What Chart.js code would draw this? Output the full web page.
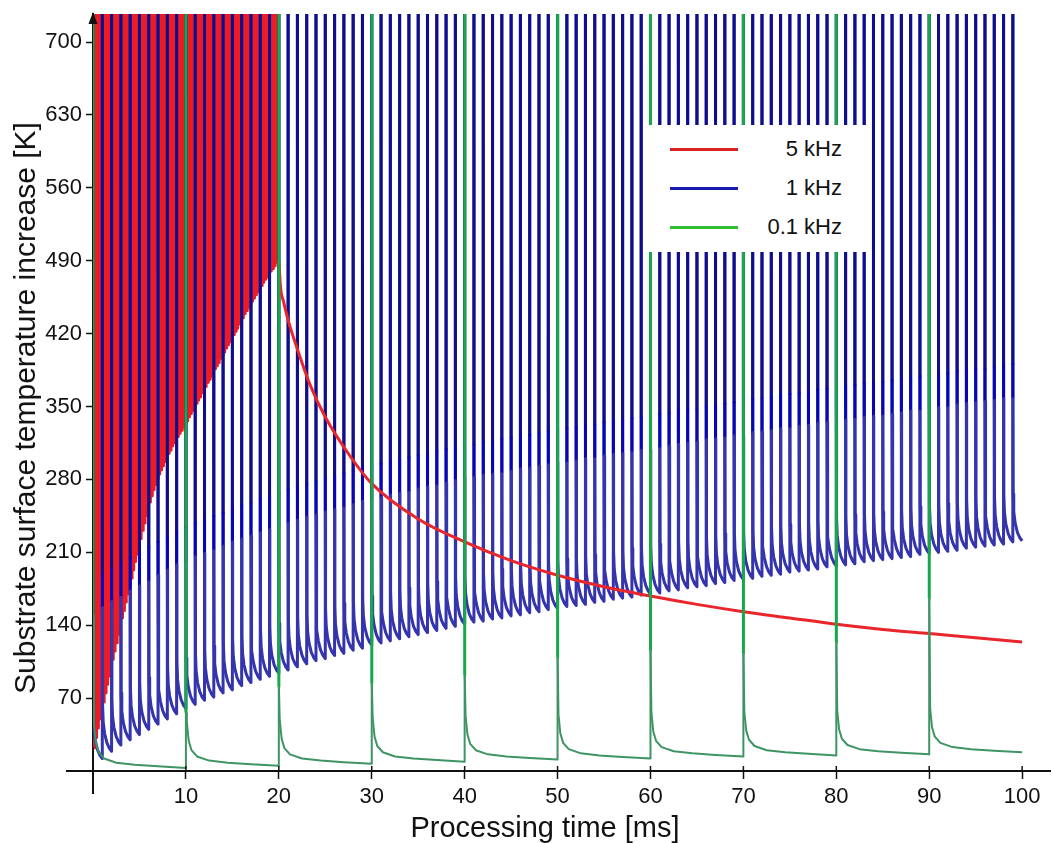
<!DOCTYPE html>
<html>
<head>
<meta charset="utf-8">
<script src="https://cdn.jsdelivr.net/npm/chart.js@4.4.1/dist/chart.umd.min.js"></script>
<style>
  body { margin: 0; background: #fff; }
  #wrap { position: relative; width: 1052px; height: 843px; font-family: Arial, "Liberation Sans", sans-serif; color: #111; }
  #chart { position: absolute; left: 0; top: 0; }
  .axis-title { position: absolute; white-space: nowrap; }
  #ytitle { left: 25px; top: 408px; font-size: 30px; transform: translate(-50%, -50%) rotate(-90deg); }
  #xtitle { left: 545px; top: 827px; font-size: 29px; transform: translate(-50%, -50%); }
  #legend { position: absolute; left: 646px; top: 125px; width: 224px; height: 127px; background: #fff; font-size: 22px; }
  #legend .item { position: absolute; left: 0; right: 0; height: 26px; }
  #legend .swatch { position: absolute; left: 24px; width: 68px; height: 3px; top: 11.5px; }
  #legend .label { position: absolute; right: 28px; top: 0; line-height: 26px; }
</style>
</head>
<body>
<div id="wrap">
  <canvas id="chart" width="1052" height="843"></canvas>
  <div class="axis-title" id="ytitle">Substrate surface temperature increase [K]</div>
  <div class="axis-title" id="xtitle">Processing time [ms]</div>
  <div id="legend"></div>
</div>
<script>
// tick labels
var xTicks = [10, 20, 30, 40, 50, 60, 70, 80, 90, 100];
var yTicks = [70, 140, 210, 280, 350, 420, 490, 560, 630, 700];

// every pulse peak runs off the top of the axis
var TOP = 760;

// 5 kHz: one pulse each 0.2 ms up to 20 ms, value just before the next pulse [K]
var redPeriod = 0.2;
var redLow = [
  22, 32, 41, 50, 58, 66, 75, 83, 91, 99,
  107, 115, 123, 131, 139, 147, 154, 162, 170, 178,
  185, 193, 201, 208, 216, 223, 231, 238, 245, 252,
  258, 264, 270, 275, 280, 285, 289, 293, 297, 301,
  305, 308, 312, 315, 318, 321, 324, 327, 330, 333,
  336, 340, 343, 346, 350, 353, 356, 359, 363, 366,
  369, 373, 376, 379, 383, 386, 389, 392, 396, 399,
  402, 406, 409, 412, 416, 419, 422, 425, 429, 432,
  435, 439, 442, 445, 448, 451, 454, 457, 460, 463,
  466, 469, 472, 474, 477, 480, 482, 485, 488, 490
];
// 5 kHz cooling after the pulse train stops
var redTailTime = [20.2, 20.5, 21, 22, 23.4, 25, 27.7, 30, 35, 40, 45, 50, 55, 60, 65, 70, 75, 80, 85, 90, 95, 100];
var redTailValue = [463, 451, 433, 405, 370, 340, 302, 276, 242, 220, 202, 188, 177, 168, 160, 153, 147, 141, 136, 132, 128, 124];

// 1 kHz: one pulse each ms, value just before the next pulse [K]
var bluePeriod = 1;
var blueLow = [
  12, 19, 25, 30, 35, 40, 45, 50, 55, 60,
  64, 68, 71, 75, 78, 82, 85, 88, 91, 94,
  97, 100, 103, 106, 108, 111, 113, 116, 118, 121,
  123, 125, 127, 129, 131, 133, 135, 137, 139, 141,
  143, 144, 146, 147, 149, 150, 152, 153, 155, 156,
  158, 159, 160, 162, 163, 165, 166, 167, 169, 170,
  171, 173, 174, 176, 177, 178, 180, 181, 183, 184,
  185, 187, 188, 189, 191, 192, 193, 194, 196, 197,
  198, 199, 201, 202, 203, 204, 205, 206, 208, 209,
  210, 211, 212, 214, 215, 216, 217, 218, 220, 221
];

// 0.1 kHz: one pulse each 10 ms
var greenPeriod = 10;
var greenLow = [3, 5, 7, 9, 11, 12, 14, 15, 16, 18];
// height where the rising green edge turns from bright to dark
var greenBright = [150, 56, 81, 84, 92, 109, 116, 113, 124, 166];

// decay after a pulse: time since the pulse [ms], height above the next low [K]
var redShapeDt = [0.01, 0.08];
var redShapeDv = [20, 6];
var blueShapeDt = [0.004, 0.008, 0.03, 0.1, 0.25, 0.5, 0.75];
var blueShapeDv = [170, 138, 45, 28, 17, 8, 3];
var greenShapeDt = [0.1, 0.3, 0.6, 1.2, 2.5, 4.5, 7];
var greenShapeDv = [42, 24, 15, 9, 5, 3, 1.5];

var BLUE_DARK = '#0e0e8c', BLUE_BAND = '#0606b4', BLUE_LIGHT = '#3434ad';
var GREEN_HI = '#18a84a', GREEN_LO = '#3e9463';

function redPoints() {
    var pts = [];
    redLow.forEach(function(low, i){
        var t0 = i * redPeriod;
        pts.push({x: t0, y: TOP});
        redShapeDt.forEach(function(dt, k){ pts.push({x: t0 + dt, y: low + redShapeDv[k]}); });
        pts.push({x: t0 + redPeriod, y: low});
    });
    return pts;
}

function redTailPoints() {
    var pts = [{x: redLow.length * redPeriod, y: redLow[redLow.length - 1]}];
    redTailTime.forEach(function(t, i){ pts.push({x: t, y: redTailValue[i]}); });
    return pts;
}

function bluePoints() {
    var pts = [];
    blueLow.forEach(function(low, i){
        var t0 = i * bluePeriod;
        pts.push({x: t0, y: TOP, z: 'dark'});
        blueShapeDt.forEach(function(dt, k){
            pts.push({x: t0 + dt, y: low + blueShapeDv[k], z: k === 0 ? 'band' : ''});
        });
        pts.push({x: t0 + bluePeriod, y: low});
    });
    return pts;
}

function greenPoints() {
    var pts = [];
    greenLow.forEach(function(low, i){
        var t0 = i * greenPeriod;
        if (i) pts.push({x: t0, y: greenBright[i], z: 'hi'});
        pts.push({x: t0, y: TOP, z: 'hi'});
        pts.push({x: t0 + 0.01, y: greenBright[i]});
        greenShapeDt.forEach(function(dt, k){ pts.push({x: t0 + dt, y: low + greenShapeDv[k]}); });
        pts.push({x: t0 + greenPeriod, y: low});
    });
    return pts;
}

function zoneOf(ctx) {
    return ctx.chart.data.datasets[ctx.datasetIndex].data[ctx.p0DataIndex].z;
}

// arrow on the y axis, stub of the x axis left of the origin, x ticks crossing the axis
var axisDecor = {
    id: 'axisDecor',
    afterDraw: function(chart) {
        var ctx = chart.ctx, area = chart.chartArea;
        var xs = chart.scales.x;
        var x0 = xs.getPixelForValue(0);
        var y0 = chart.scales.y.getPixelForValue(0);
        ctx.save();
        ctx.strokeStyle = '#111';
        ctx.fillStyle = '#111';
        ctx.lineWidth = 2;
        ctx.beginPath();
        ctx.moveTo(x0 - 27, y0);
        ctx.lineTo(x0, y0);
        ctx.stroke();
        ctx.lineWidth = 1.5;
        xs.ticks.forEach(function(t){
            var px = xs.getPixelForValue(t.value);
            ctx.beginPath();
            ctx.moveTo(px, y0 - 5);
            ctx.lineTo(px, y0);
            ctx.stroke();
        });
        ctx.beginPath();
        ctx.moveTo(x0, area.top - 2);
        ctx.lineTo(x0 - 4.5, area.top + 10);
        ctx.lineTo(x0 + 4.5, area.top + 10);
        ctx.closePath();
        ctx.fill();
        ctx.restore();
    }
};

Chart.defaults.font.family = 'Arial, "Liberation Sans", sans-serif';
Chart.defaults.color = '#111';

var chart = new Chart(document.getElementById('chart').getContext('2d'), {
    type: 'line',
    data: {
        datasets: [
            {
                label: '5 kHz',
                legendColor: '#d92323',
                data: redPoints(),
                borderColor: '#ee1b24',
                borderWidth: 2.5,
                order: 4
            },
            {
                label: '1 kHz',
                legendColor: '#1a1ab0',
                data: bluePoints(),
                borderColor: BLUE_DARK,
                borderWidth: 3,
                order: 3,
                segment: {
                    borderColor: function(ctx){
                        var z = zoneOf(ctx);
                        return z === 'dark' ? BLUE_DARK : (z === 'band' ? BLUE_BAND : BLUE_LIGHT);
                    }
                }
            },
            {
                label: '0.1 kHz',
                legendColor: '#2fbf2f',
                data: greenPoints(),
                borderColor: GREEN_HI,
                borderWidth: 3,
                order: 1,
                segment: {
                    borderColor: function(ctx){ return zoneOf(ctx) === 'hi' ? GREEN_HI : GREEN_LO; },
                    borderWidth: function(ctx){ return zoneOf(ctx) === 'hi' ? 3 : 2; }
                }
            },
            {
                label: '',
                data: redTailPoints(),
                borderColor: '#e8262c',
                borderWidth: 3,
                cubicInterpolationMode: 'monotone',
                order: 2
            }
        ]
    },
    options: {
        responsive: false,
        devicePixelRatio: 1,
        animation: false,
        parsing: false,
        normalized: true,
        layout: { padding: { left: 0, right: 2, top: 14, bottom: 50 } },
        elements: {
            point: { radius: 0, hoverRadius: 0 },
            line: { tension: 0, borderJoinStyle: 'round', fill: false }
        },
        plugins: {
            legend: { display: false },
            tooltip: { enabled: false }
        },
        events: [],
        scales: {
            x: {
                type: 'linear',
                position: { y: 0 },
                min: 0,
                max: 103,
                z: 1,
                afterBuildTicks: function(s){ s.ticks = xTicks.map(function(v){ return {value: v}; }); },
                grid: { drawOnChartArea: false, tickLength: 7, tickColor: '#111', tickWidth: 1.5 },
                border: { color: '#111', width: 2 },
                ticks: { font: { size: 22 }, padding: 6, maxRotation: 0, autoSkip: false }
            },
            y: {
                type: 'linear',
                position: 'left',
                min: -21.1,
                max: 726.9,
                z: 1,
                afterBuildTicks: function(s){ s.ticks = yTicks.map(function(v){ return {value: v}; }); },
                afterFit: function(s){ s.width = 93; s.paddingTop = 0; s.paddingBottom = 0; },
                grid: { drawOnChartArea: false, tickLength: 7, tickColor: '#111', tickWidth: 1.5 },
                border: { color: '#111', width: 2 },
                ticks: { font: { size: 22 }, padding: 4 }
            }
        }
    },
    plugins: [axisDecor]
});

// legend box inside the plot, built from the datasets
var legendEl = document.getElementById('legend');
chart.data.datasets.filter(function(d){ return d.label; }).forEach(function(d, i){
    var item = document.createElement('div');
    item.className = 'item';
    item.style.top = (24 + i * 39 - 13) + 'px';
    item.innerHTML = '<div class="swatch" style="background:' + d.legendColor + '"></div>' +
                     '<div class="label">' + d.label + '</div>';
    legendEl.appendChild(item);
});
</script>
</body>
</html>
